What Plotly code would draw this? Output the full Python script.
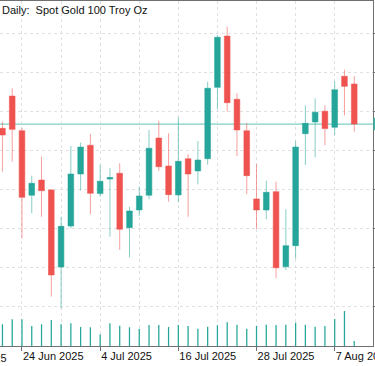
import plotly.graph_objects as go

# ---------------- data ----------------
dates = ["20 Jun 2025", "23 Jun 2025", "24 Jun 2025", "25 Jun 2025", "26 Jun 2025", "27 Jun 2025",
         "30 Jun 2025", "1 Jul 2025", "2 Jul 2025", "3 Jul 2025", "4 Jul 2025", "7 Jul 2025",
         "8 Jul 2025", "9 Jul 2025", "10 Jul 2025", "11 Jul 2025", "14 Jul 2025", "15 Jul 2025",
         "16 Jul 2025", "17 Jul 2025", "18 Jul 2025", "21 Jul 2025", "22 Jul 2025", "23 Jul 2025",
         "24 Jul 2025", "25 Jul 2025", "28 Jul 2025", "29 Jul 2025", "30 Jul 2025", "31 Jul 2025",
         "1 Aug 2025", "4 Aug 2025", "5 Aug 2025", "6 Aug 2025", "7 Aug 2025", "8 Aug 2025",
         "11 Aug 2025"]

opens = [3370.0, 3391.9, 3368.4, 3324.6, 3334.9, 3328.2, 3275.9, 3303.7, 3339.0, 3358.5,
         3325.7, 3335.6, 3339.5, 3302.6, 3314.6, 3324.6, 3363.4, 3344.4, 3324.8, 3349.4,
         3341.1, 3349.4, 3397.8, 3432.6, 3389.7, 3368.4, 3322.1, 3314.6, 3327.0, 3276.1,
         3290.4, 3366.4, 3374.3, 3381.6, 3370.7, 3405.3, 3400.1]
highs = [3374.5, 3397.2, 3370.4, 3337.9, 3350.8, 3328.8, 3310.0, 3358.0, 3360.3, 3366.2,
         3345.3, 3342.9, 3346.3, 3316.8, 3330.4, 3368.9, 3375.2, 3366.6, 3377.5, 3352.4,
         3361.4, 3401.6, 3433.3, 3439.0, 3393.8, 3373.8, 3345.8, 3334.5, 3333.8, 3315.1,
         3361.4, 3385.6, 3390.4, 3385.6, 3401.9, 3409.8, 3405.5]
lows = [3340.6, 3347.4, 3295.4, 3312.3, 3310.0, 3255.8, 3247.9, 3302.2, 3327.7, 3311.7,
        3323.6, 3296.5, 3287.5, 3282.5, 3310.5, 3321.9, 3341.1, 3320.2, 3319.8, 3310.0,
        3332.0, 3345.3, 3383.1, 3381.3, 3351.2, 3325.4, 3301.7, 3308.3, 3268.3, 3273.9,
        3281.6, 3345.1, 3350.3, 3358.5, 3365.5, 3378.8, 3367.7]
closes = [3365.5, 3369.3, 3323.2, 3332.7, 3327.7, 3270.5, 3303.5, 3339.0, 3357.3, 3325.9,
          3334.1, 3336.6, 3301.5, 3313.9, 3324.1, 3356.5, 3344.0, 3325.0, 3347.6, 3339.0,
          3348.5, 3397.2, 3431.8, 3387.4, 3368.9, 3337.9, 3314.6, 3326.6, 3275.4, 3290.4,
          3357.3, 3373.4, 3380.9, 3369.8, 3396.2, 3398.5, 3372.9]
volumes = [65100, 80100, 80100, 60000, 65100, 78000, 65100, 68100, 57000, 56100,
           35100, 68100, 60900, 56100, 51900, 63000, 63000, 57000, 63000, 60000,
           51900, 57900, 62100, 71100, 63900, 51900, 60000, 63900, 63000, 63900,
           69900, 63900, 57900, 60000, 81000, 105000, 15000]

tick_labels = ["24 Jun 2025", "4 Jul 2025", "16 Jul 2025", "28 Jul 2025", "7 Aug 2025"]
grid_dates = ["30 Jun 2025", "10 Jul 2025", "22 Jul 2025", "1 Aug 2025"]
hidden_label = "12 Jun 2025"          # label of the bar 6 sessions before the first one
hidden_label_offset = -6
price_grid = [3249.0, 3275.5, 3302.0, 3328.5, 3355.0, 3381.6, 3408.1, 3434.6]
title_text = "Daily:\u00a0 Spot Gold 100 Troy Oz"

# ---------------- figure ----------------
x = list(range(len(dates)))
x_range = [-0.25, 37.92]
y_range = [3222.3, 3456.4]
vol_range = [0, 1035000]

UP, DOWN = "#26a69a", "#ef5350"
FONT = "Liberation Sans, Arial, sans-serif"
GRID = "#e0e0e0"

fig = go.Figure()

fig.add_trace(go.Bar(
    x=x, y=volumes, yaxis="y2", width=0.13,
    marker=dict(color=UP, line=dict(width=0)), hoverinfo="skip", showlegend=False))

fig.add_trace(go.Candlestick(
    x=x, open=opens, high=highs, low=lows, close=closes,
    increasing=dict(fillcolor=UP, line=dict(color="rgba(38,166,154,0.55)", width=1)),
    decreasing=dict(fillcolor=DOWN, line=dict(color="rgba(239,83,80,0.55)", width=1)),
    whiskerwidth=0, showlegend=False))

tick_idx = [dates.index(d) for d in tick_labels]
grid_idx = [dates.index(d) for d in grid_dates]

fig.update_layout(
    width=375, height=366,
    margin=dict(l=0, r=2, t=1, b=20, autoexpand=False),
    paper_bgcolor="white", plot_bgcolor="white",
    boxgap=0.42, boxgroupgap=0, barmode="overlay",
    font=dict(family=FONT, size=11, color="#111"),
    xaxis=dict(
        range=x_range, rangeslider=dict(visible=False),
        tickmode="array", tickvals=tick_idx, ticktext=tick_labels,
        ticklabelposition="outside right", ticklabeloverflow="allow",
        ticks="outside", ticklen=4, tickcolor="#707070",
        showgrid=True, gridcolor=GRID, griddash="dot", gridwidth=1,
        minor=dict(tickmode="array", tickvals=grid_idx, showgrid=True,
                   gridcolor=GRID, griddash="dot", ticks=""),
        showline=True, linecolor="#707070", linewidth=1, mirror=True,
        zeroline=False, fixedrange=True, automargin=False,
        tickfont=dict(family=FONT, size=11, color="#111")),
    yaxis=dict(
        range=y_range, side="right",
        tickmode="array", tickvals=price_grid, showticklabels=False,
        ticks="outside", ticklen=3, tickcolor="#707070",
        showgrid=True, gridcolor=GRID, griddash="dot", gridwidth=1,
        showline=True, linecolor="#707070", linewidth=1, zeroline=False,
        automargin=False, fixedrange=True),
    yaxis2=dict(range=vol_range, overlaying="y", visible=False, fixedrange=True),
)

# bid line at the last close
fig.add_shape(type="line", xref="paper", x0=0, x1=1, yref="y",
              y0=closes[-1], y1=closes[-1],
              line=dict(color="#7fcfc5", width=1.3), layer="below")
# bid label box peeking at the right edge
fig.add_shape(type="rect", xref="paper", x0=1.001, x1=1.03, yref="y",
              y0=closes[-1] - 4.2, y1=closes[-1] + 4.2,
              fillcolor="#3fb3a8", line=dict(width=0))

# title
fig.add_annotation(text=title_text, xref="paper", yref="paper", x=0, y=1,
                   xanchor="left", yanchor="top", yshift=-1, showarrow=False,
                   font=dict(family=FONT, size=11, color="#111"))

# clipped date label at the far left
px = (hidden_label_offset - x_range[0]) / (x_range[1] - x_range[0])
fig.add_annotation(text=hidden_label, xref="paper", yref="paper", x=px, y=0,
                   xanchor="left", yanchor="top", yshift=-4, showarrow=False,
                   font=dict(family=FONT, size=11, color="#111"))

fig.write_html("out.html",
               config={"displayModeBar": False, "staticPlot": True},
               post_script="document.body.style.margin='0';"
                           "document.body.style.overflow='hidden';")
